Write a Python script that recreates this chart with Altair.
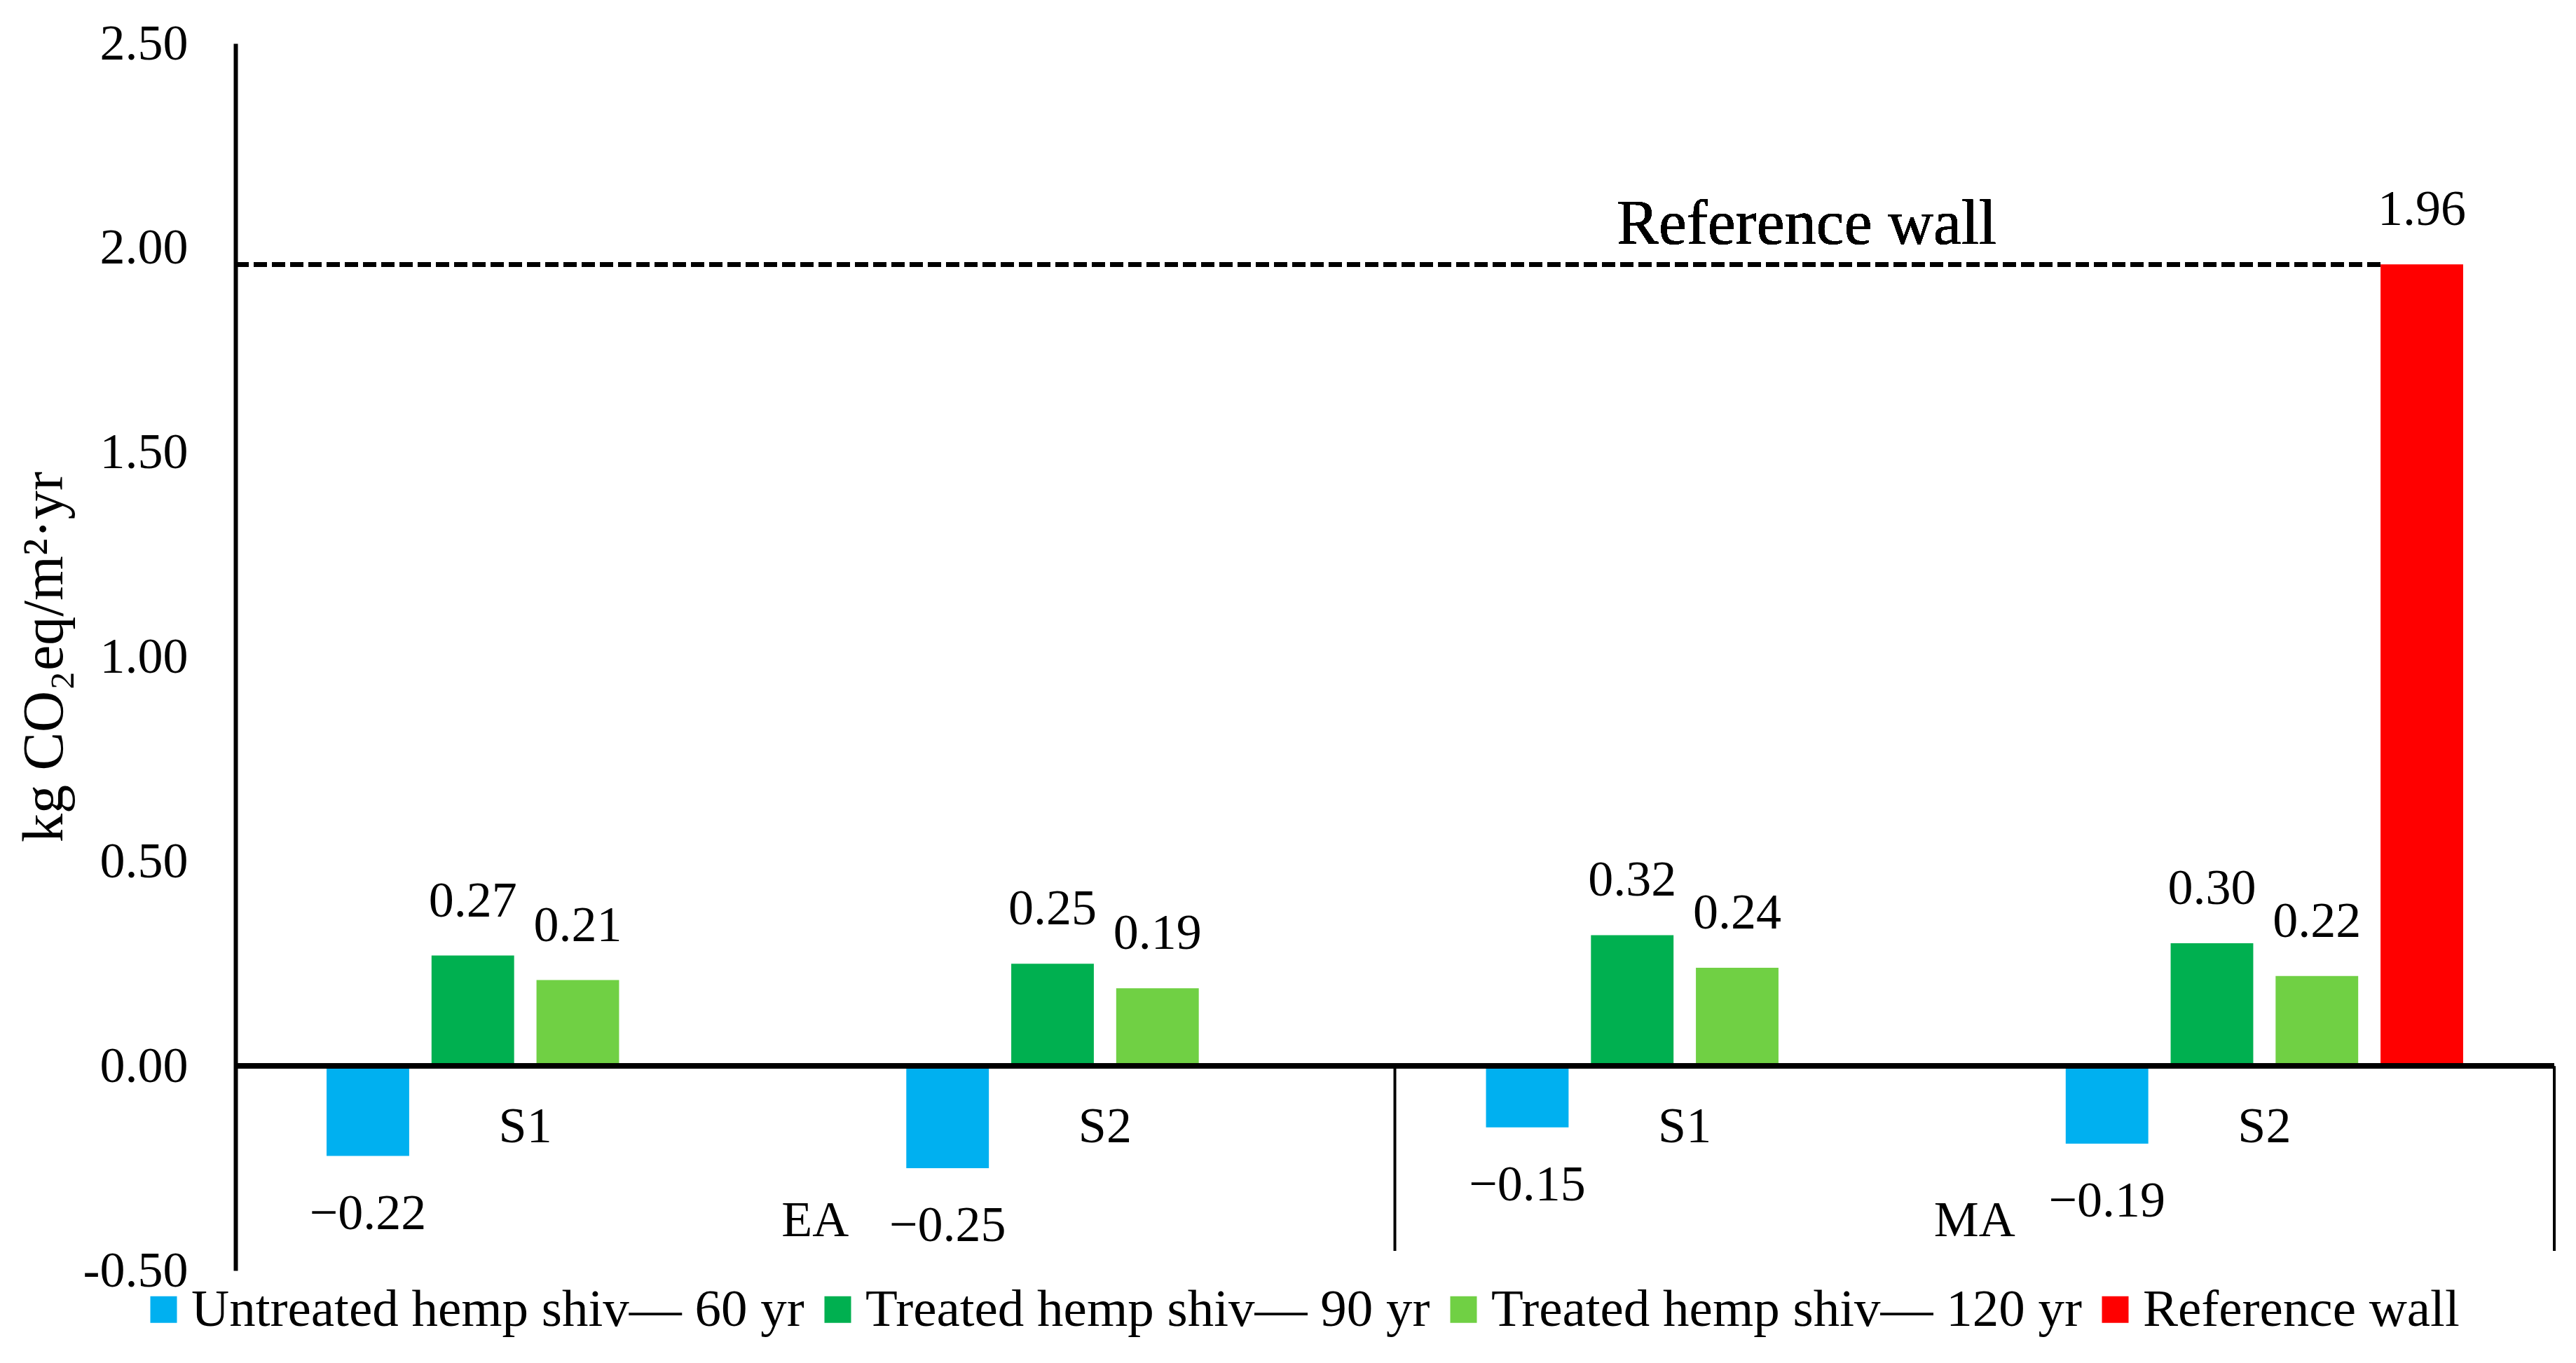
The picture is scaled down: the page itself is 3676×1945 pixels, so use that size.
import altair as alt
import pandas as pd

# ---- data ----
categories = ["EA S1", "EA S2", "MA S1", "MA S2"]
cat_labels = ["S1", "S2", "S1", "S2"]
groups = ["EA", "MA"]
group_first = ["EA S1", "MA S1"]   # first category of each group
group_last = ["EA S2", "MA S2"]    # last category of each group
series = [
    "Untreated hemp shiv\u2014 60 yr",
    "Treated hemp shiv\u2014 90 yr",
    "Treated hemp shiv\u2014 120 yr",
    "Reference wall",
]
colors = ["#00B0F0", "#00B050", "#70D044", "#FF0000"]
untreated_60 = [-0.22, -0.25, -0.15, -0.19]
treated_90 = [0.27, 0.25, 0.32, 0.30]
treated_120 = [0.21, 0.19, 0.24, 0.22]
reference_wall = [None, None, None, 1.96]
reference_level = 1.96
y_ticks = [-0.5, 0.0, 0.5, 1.0, 1.5, 2.0, 2.5]

rows = []
for s, vals in zip(series, [untreated_60, treated_90, treated_120, reference_wall]):
    for c, v in zip(categories, vals):
        if v is not None:
            rows.append({"cat": c, "series": s, "v": v})
df = pd.DataFrame(rows)
cat_df = pd.DataFrame({"cat": categories, "lab": cat_labels})
grp_df = pd.DataFrame({"grp": groups, "first": group_first, "last": group_last})

# ---- layout ----
W, H = 3309, 1751
FONT = "Liberation Serif"
PI, PO = 0.3144, 0.1572
OPI = 0.213

x_scale = alt.Scale(domain=categories, paddingInner=PI, paddingOuter=PO)
xo_scale = alt.Scale(domain=series, paddingInner=OPI, paddingOuter=0)
y_scale = alt.Scale(domain=[-0.5, 2.5], nice=False, zero=False)

step = W / (len(categories) - PI + 2 * PO)
band = step * (1 - PI)
ostep = band / (len(series) - OPI)
red_left = categories.index("MA S2") * step + PO * step + series.index("Reference wall") * ostep
half_gap = step * PI / 2   # distance from a band edge to the category boundary

y_axis = alt.Axis(
    values=y_ticks,
    labelExpr="replace(format(datum.value, '.2f'), '\u2212', '-')",
    labelFont=FONT, labelFontSize=72, labelColor="black", labelPadding=68,
    ticks=False, tickSize=0, grid=False,
    domainColor="black", domainWidth=6,
    title="kg CO\u2082eq/m\u00b2\u00b7yr",
    titleFont=FONT, titleFontSize=82, titleFontWeight="normal", titleColor="black",
    titleX=-248, titleY=875, titleAngle=270, titleAlign="center", titleBaseline="alphabetic",
)


def yv(field):
    return alt.Y(field, scale=y_scale, axis=y_axis)


def yd(value):
    return alt.Y(datum=value, scale=y_scale, axis=y_axis)


base = alt.Chart(df).encode(
    x=alt.X("cat:N", scale=x_scale, axis=None),
    xOffset=alt.XOffset("series:N", scale=xo_scale),
)

bars = base.mark_bar().encode(
    y=yv("v:Q"),
    y2=alt.datum(0),
    color=alt.Color(
        "series:N",
        scale=alt.Scale(domain=series, range=colors),
        legend=alt.Legend(
            orient="none", legendX=-140, legendY=1769, direction="horizontal",
            columns=4, title=None, padding=0,
            labelFont=FONT, labelFontSize=75, labelColor="black", labelLimit=3000,
            symbolType="square", symbolSize=1444, symbolStrokeWidth=0,
            labelOffset=2, columnPadding=10,
        ),
    ),
)

pos_labels = base.transform_filter("datum.v >= 0").transform_calculate(
    label="format(datum.v, '.2f')"
).mark_text(font=FONT, fontSize=72, color="black", baseline="middle", dy=-78).encode(
    y=yv("v:Q"), text="label:N"
)

neg_labels = base.transform_filter("datum.v < 0").transform_calculate(
    label="format(datum.v, '.2f')"
).mark_text(font=FONT, fontSize=72, color="black", baseline="middle", dy=82).encode(
    y=yv("v:Q"), text="label:N"
)

zero_line = alt.Chart(df).mark_rule(color="black", strokeWidth=7).encode(
    y=yd(0), x=alt.value(0), x2=alt.value(W)
)

ref_line = alt.Chart(df).mark_rule(color="black", strokeWidth=6, strokeDash=[19, 7]).encode(
    y=yd(reference_level), x=alt.value(0), x2=alt.value(red_left)
)

ref_text = alt.Chart(df).mark_text(
    font=FONT, fontSize=90, color="black", baseline="alphabetic", align="center", dy=-29
).encode(
    y=yd(reference_level), x=alt.value(2242), text=alt.value("Reference wall"),
)

cat_text = alt.Chart(cat_df).mark_text(
    font=FONT, fontSize=72, color="black", baseline="middle", dy=87
).encode(
    x=alt.X("cat:N", scale=x_scale, axis=None),
    y=yd(0),
    text="lab:N",
)

# group separators at the right end of each group
grp_rules = alt.Chart(grp_df).mark_rule(color="black", strokeWidth=4, xOffset=half_gap).encode(
    x=alt.X("last:N", scale=x_scale, axis=None, bandPosition=1),
    y=yd(0),
    y2=alt.value(H - 28),
)
# group labels centred between the two categories of each group
grp_text = alt.Chart(grp_df).mark_text(
    font=FONT, fontSize=72, color="black", baseline="middle", dy=221, dx=half_gap
).encode(
    x=alt.X("first:N", scale=x_scale, axis=None, bandPosition=1),
    y=yd(0),
    text="grp:N",
)

chart = alt.layer(
    bars, zero_line, ref_line, ref_text, pos_labels, neg_labels, cat_text, grp_rules, grp_text
).properties(
    width=W, height=H,
    padding={"left": 328, "top": 54, "right": 23, "bottom": 124},
    autosize=alt.AutoSizeParams(type="none"),
    background="white",
).configure_view(stroke=None)

chart.save("out.html", embed_options={"renderer": "svg", "actions": False})
